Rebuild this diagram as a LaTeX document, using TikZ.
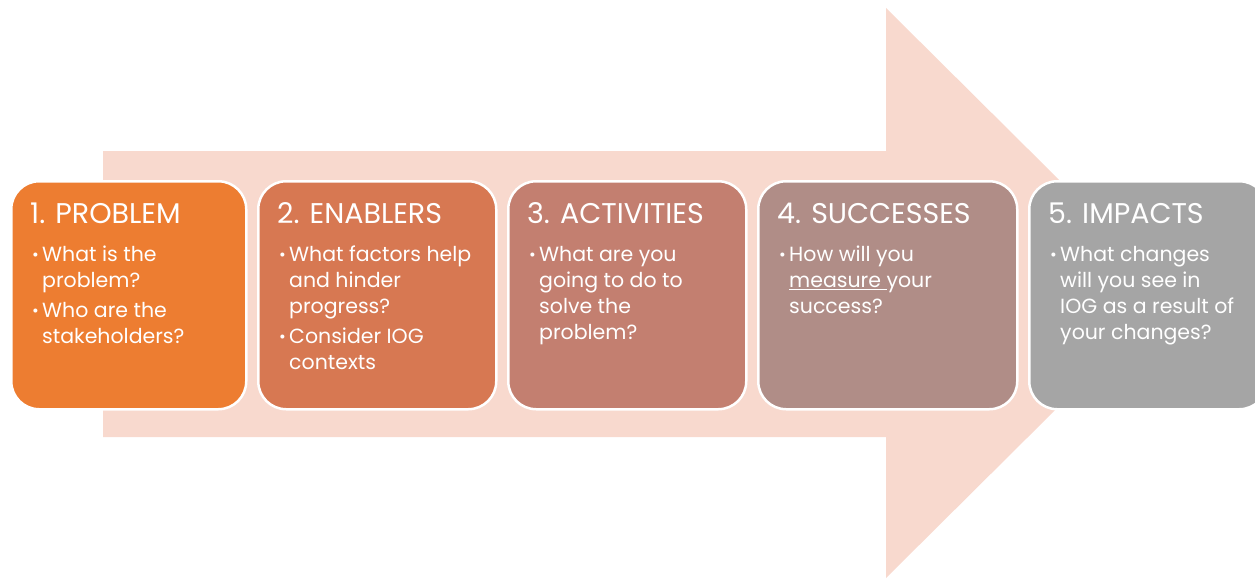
\documentclass[tikz,border=0pt]{standalone}
\usepackage{fontspec}
\setmainfont{Poppins}
\usetikzlibrary{positioning}
\definecolor{StepOne}{HTML}{ED7D31}
\definecolor{StepTwo}{HTML}{D77852}
\definecolor{StepThree}{HTML}{C37F70}
\definecolor{StepFour}{HTML}{B08D87}
\definecolor{StepFive}{HTML}{A5A5A5}
\definecolor{ArrowPink}{HTML}{F8D9CE}
\newcommand{\blt}{\makebox[10pt][l]{\raisebox{1pt}{\scalebox{0.8}{\textbullet}}}}
\newcommand{\ind}{\hspace*{10pt}}

\begin{document}
\begin{tikzpicture}[x=1pt, y=-1pt, node distance=9.5pt,
  stepbox/.style={draw=white, line width=2.5pt, rounded corners=28pt, minimum height=228pt, minimum width=238pt, inner sep=0pt},
  head/.style={anchor=base west, inner sep=0pt, text=white, font=\fontsize{28.5}{32}\selectfont},
  body/.style={anchor=north west, inner sep=0pt, text=white, align=left, font=\fontsize{20.5}{26}\selectfont}]
\useasboundingbox (0,0) rectangle (1255,578);
% big arrow behind the steps
\fill[ArrowPink] (103,151) -- (886,151) -- (886,8) -- (1173,293) -- (886,578) -- (886,437) -- (103,437) -- cycle;
% the five steps
\node[stepbox, fill=StepOne, anchor=north west, minimum width=235pt] (problem) at (10,180) {};
\node[stepbox, fill=StepTwo, right=of problem] (enablers) {};
\node[stepbox, fill=StepThree, right=of enablers] (activities) {};
\node[stepbox, fill=StepFour, right=of activities, minimum width=259pt] (successes) {};
\node[stepbox, fill=StepFive, right=of successes] (impacts) {};
% headings
\node[head] (problemT) at ([shift={(20,43)}]problem.north west) {1. PROBLEM};
\node[head] (enablersT) at ([shift={(20,43)}]enablers.north west) {2. ENABLERS};
\node[head] (activitiesT) at ([shift={(20,43)}]activities.north west) {3. ACTIVITIES};
\node[head] (successesT) at ([shift={(20,43)}]successes.north west) {4. SUCCESSES};
\node[head] (impactsT) at ([shift={(20,43)}]impacts.north west) {5. IMPACTS};
% questions
\node[body] (problemB) at ([shift={(22,66)}]problem.north west)
  {\blt What is the\\ \ind problem?\\[4pt] \blt Who are the\\ \ind stakeholders?};
\node[body] (enablersB) at ([shift={(22,66)}]enablers.north west)
  {\blt What factors help\\ \ind and hinder\\ \ind progress?\\[4pt] \blt Consider IOG\\ \ind contexts};
\node[body] (activitiesB) at ([shift={(22,66)}]activities.north west)
  {\blt What are you\\ \ind going to do to\\ \ind solve the\\ \ind problem?};
\node[body] (successesB) at ([shift={(22,66)}]successes.north west)
  {\blt How will you\\ \ind \underline{measure\ }your\\ \ind success?};
\node[body] (impactsB) at ([shift={(22,66)}]impacts.north west)
  {\blt What changes\\ \ind will you see in\\ \ind IOG as a result of\\ \ind your changes?};
\end{tikzpicture}
\end{document}
